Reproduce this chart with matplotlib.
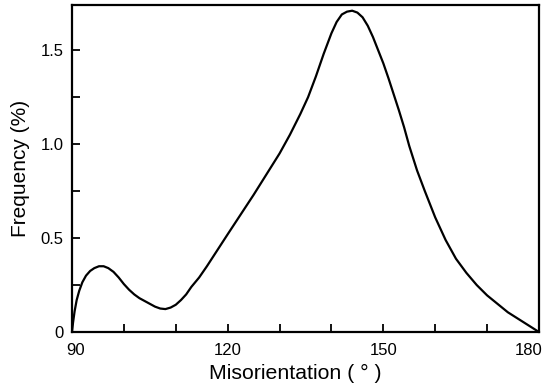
import matplotlib.pyplot as plt
import numpy as np
from matplotlib.ticker import MultipleLocator
import matplotlib.transforms as mtransforms

plt.rcParams['font.family'] = ['Liberation Sans', 'DejaVu Sans']

# curve
misorientation = [90, 90.2, 90.5, 90.9, 91.4, 92.0, 92.7, 93.5, 94.3, 95.2, 96.1, 97.0,
                  98.0, 99.0, 100.0, 101.0, 102.0, 103.0, 104.0, 105.0, 106.0, 107.0,
                  108.0, 109.0, 110.0, 111.0, 112.0, 113.0, 114.5, 116, 118, 120, 122.5,
                  125, 127.5, 130, 132, 134, 135.5, 137, 138.5, 140, 141, 142, 143, 144,
                  145, 146, 147, 148, 149, 150, 151, 152, 153, 154, 155, 156.5, 158,
                  160, 162, 164, 166, 168, 170, 172, 174, 176, 178, 180]
frequency = [0.0, 0.05, 0.11, 0.17, 0.22, 0.265, 0.30, 0.325, 0.34, 0.35, 0.35, 0.34,
             0.32, 0.29, 0.255, 0.225, 0.20, 0.18, 0.165, 0.15, 0.135, 0.125,
             0.122, 0.13, 0.145, 0.17, 0.2, 0.24, 0.29, 0.35, 0.435, 0.52, 0.625,
             0.73, 0.84, 0.95, 1.05, 1.16, 1.25, 1.36, 1.48, 1.59, 1.65, 1.69, 1.705, 1.71,
             1.70, 1.675, 1.63, 1.57, 1.50, 1.43, 1.35, 1.265, 1.18, 1.09, 0.99, 0.86, 0.75,
             0.61, 0.49, 0.39, 0.315, 0.25, 0.195, 0.15, 0.105, 0.07, 0.035, 0.0]

xticks = [90, 120, 150, 180]
yticks = [0, 0.5, 1.0, 1.5]
ytick_labels = ['0', '0.5', '1.0', '1.5']

fig = plt.figure(figsize=(5.43, 3.9), dpi=100)
ax = fig.add_axes([0.1326, 0.1487, 0.8600, 0.8383])

ax.plot(misorientation, frequency, color='black', lw=1.6, solid_joinstyle='round')

ax.set_xlim(90, 180)
ax.set_ylim(0, 1.74)
ax.set_xticks(xticks)
ax.set_yticks(yticks)
ax.set_yticklabels(ytick_labels)
ax.xaxis.set_minor_locator(MultipleLocator(10))
ax.yaxis.set_minor_locator(MultipleLocator(0.25))
ax.tick_params(which='both', direction='in', length=6, width=1.3, labelsize=12)
ax.tick_params(axis='x', pad=8)
ax.tick_params(axis='y', pad=6)
for s in ax.spines.values():
    s.set_linewidth(1.6)

# shift the end labels inward like the original
labels = ax.get_xticklabels()
labels[0].set_transform(labels[0].get_transform() +
                        mtransforms.ScaledTranslation(4 / 100, 0, fig.dpi_scale_trans))
labels[-1].set_transform(labels[-1].get_transform() +
                         mtransforms.ScaledTranslation(-10 / 100, 0, fig.dpi_scale_trans))

ax.set_xlabel('Misorientation ( ° )', fontsize=15.3)
ax.xaxis.set_label_coords(0.479, -0.098)
ax.set_ylabel('Frequency (%)', fontsize=15, labelpad=8)

fig.savefig('out.png', dpi=100)
